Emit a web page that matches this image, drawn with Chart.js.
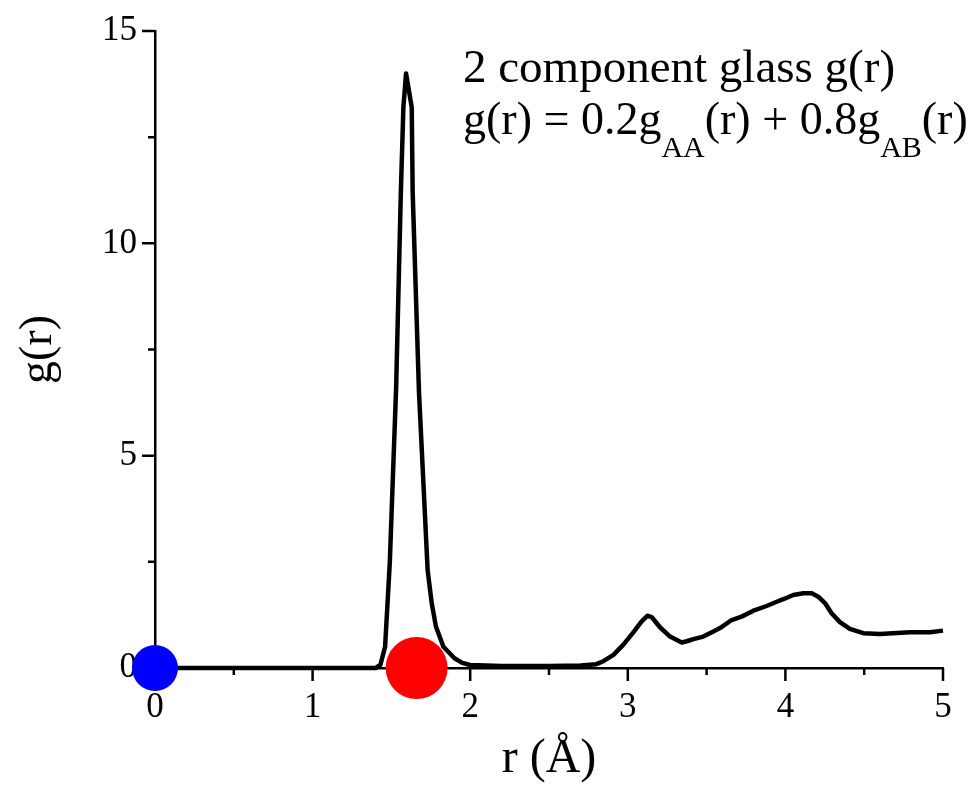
<!DOCTYPE html>
<html>
<head>
<meta charset="utf-8">
<script src="https://cdn.jsdelivr.net/npm/chart.js@4.4.1/dist/chart.umd.min.js"></script>
<style>
  html, body { margin: 0; padding: 0; background: #ffffff; }
  canvas { display: block; }
</style>
</head>
<body>
<canvas id="gr" width="980" height="788"></canvas>
<script>
// Radial distribution function of the two-component glass
const rValues = [
  0, 0.5, 1.0, 1.40, 1.43, 1.46, 1.49, 1.53, 1.56, 1.576, 1.593,
  1.629, 1.635, 1.675, 1.73, 1.756, 1.783, 1.83, 1.90, 1.95, 2.0,
  2.2, 2.5, 2.7, 2.80, 2.845, 2.909, 2.972, 3.035, 3.088, 3.124,
  3.151, 3.204, 3.268, 3.342, 3.374, 3.416, 3.479, 3.543, 3.585,
  3.659, 3.722, 3.797, 3.881, 3.945, 3.987, 4.050, 4.114, 4.167,
  4.209, 4.251, 4.293, 4.346, 4.409, 4.494, 4.600, 4.791, 4.918, 5.0
];
const gValues = [
  0, 0, 0, 0, 0.07, 0.5, 2.5, 6.6, 11.2, 13.2, 14.0,
  13.2, 11.2, 6.5, 2.3, 1.52, 0.97, 0.5, 0.23, 0.12, 0.07,
  0.05, 0.05, 0.06, 0.09, 0.16, 0.31, 0.55, 0.84, 1.10, 1.23,
  1.20, 0.96, 0.74, 0.60, 0.63, 0.68, 0.74, 0.86, 0.94,
  1.13, 1.21, 1.35, 1.46, 1.56, 1.62, 1.72, 1.76, 1.76,
  1.68, 1.53, 1.29, 1.08, 0.92, 0.82, 0.80, 0.84, 0.84, 0.88
];

// Marker atoms placed on the r axis
const atomA = { r: 0.0, g: 0 };
const atomB = { r: 1.66, g: 0 };

// Axis ticks
const xMajorTicks = [0, 1, 2, 3, 4, 5];
const xMinorTicks = [0.5, 1.5, 2.5, 3.5, 4.5];
const yMajorTicks = [0, 5, 10, 15];
const yMinorTicks = [2.5, 7.5, 12.5];

const SERIF = '"Liberation Serif", "Times New Roman", serif';

const curvePoints = rValues.map((r, i) => ({ x: r, y: gValues[i] }));

// Outward tick marks drawn on the scales (long for major, short for minor)
const tickMarks = {
  id: 'tickMarks',
  beforeDatasetsDraw(chart) {
    const { ctx, chartArea, scales } = chart;
    ctx.save();
    ctx.strokeStyle = '#000';
    ctx.lineWidth = 2.5;
    ctx.beginPath();
    const xs = scales.x, ys = scales.y;
    xMajorTicks.forEach(v => { const p = xs.getPixelForValue(v); ctx.moveTo(p, chartArea.bottom); ctx.lineTo(p, chartArea.bottom + 13); });
    xMinorTicks.forEach(v => { const p = xs.getPixelForValue(v); ctx.moveTo(p, chartArea.bottom); ctx.lineTo(p, chartArea.bottom + 7); });
    yMajorTicks.forEach(v => { const p = ys.getPixelForValue(v); ctx.moveTo(chartArea.left, p); ctx.lineTo(chartArea.left - 13, p); });
    yMinorTicks.forEach(v => { const p = ys.getPixelForValue(v); ctx.moveTo(chartArea.left, p); ctx.lineTo(chartArea.left - 7, p); });
    ctx.stroke();
    ctx.restore();
  }
};

// Two-line caption with subscripts in the upper right
const caption = {
  id: 'caption',
  afterDraw(chart) {
    const { ctx } = chart;
    const big = '46px ' + SERIF;
    const small = '30px ' + SERIF;
    const x0 = 463;
    ctx.save();
    ctx.fillStyle = '#000';
    ctx.textBaseline = 'alphabetic';
    ctx.textAlign = 'left';
    ctx.font = '47px ' + SERIF;
    ctx.fillText('2 component glass g(r)', x0, 82);
    const parts = [
      ['g(r) = 0.2g', big, 0],
      ['AA', small, 23],
      ['(r) + 0.8g', big, 0],
      ['AB', small, 23],
      ['(r)', big, 0]
    ];
    let x = x0;
    parts.forEach(([t, f, dy]) => {
      ctx.font = f;
      ctx.fillText(t, x, 134 + dy);
      x += ctx.measureText(t).width;
    });
    ctx.restore();
  }
};

new Chart(document.getElementById('gr'), {
  type: 'scatter',
  data: {
    datasets: [
      {
        label: 'A',
        data: [{ x: atomA.r, y: atomA.g }],
        pointRadius: 23,
        pointHoverRadius: 23,
        pointBackgroundColor: '#0000ff',
        pointBorderWidth: 0,
        clip: false
      },
      {
        label: 'B',
        data: [{ x: atomB.r, y: atomB.g }],
        pointRadius: 31,
        pointHoverRadius: 31,
        pointBackgroundColor: '#ff0000',
        pointBorderWidth: 0,
        clip: false
      },
      {
        label: 'g(r)',
        data: curvePoints,
        showLine: true,
        borderColor: '#000',
        borderWidth: 4.5,
        pointRadius: 0,
        tension: 0,
        borderJoinStyle: 'round',
        clip: false
      }
    ]
  },
  options: {
    responsive: false,
    animation: false,
    devicePixelRatio: 1,
    layout: { padding: { top: 29, right: 37, left: 0, bottom: 0 } },
    plugins: {
      legend: { display: false },
      tooltip: { enabled: false }
    },
    scales: {
      x: {
        type: 'linear',
        min: 0,
        max: 5,
        grid: { display: false, drawTicks: false },
        border: { display: true, color: '#000', width: 2.5 },
        ticks: {
          stepSize: 1,
          padding: 19,
          color: '#000',
          font: { family: SERIF, size: 35 },
          maxRotation: 0
        },
        title: {
          display: true,
          text: 'r (Å)',
          color: '#000',
          font: { family: SERIF, size: 48 },
          padding: { top: 0, bottom: 0 }
        },
        afterFit(scale) { scale.height = 120; scale.paddingRight = 0; scale.paddingLeft = 0; }
      },
      y: {
        type: 'linear',
        min: 0,
        max: 15,
        grid: { display: false, drawTicks: false },
        border: { display: true, color: '#000', width: 2.5 },
        ticks: {
          stepSize: 5,
          padding: 18,
          color: '#000',
          font: { family: SERIF, size: 35 }
        },
        title: {
          display: true,
          text: 'g(r)',
          color: '#000',
          font: { family: SERIF, size: 46 },
          padding: { top: 11, bottom: 0 }
        },
        afterFit(scale) { scale.width = 155; scale.paddingTop = 0; scale.paddingBottom = 0; }
      }
    }
  },
  plugins: [tickMarks, caption]
});
</script>
</body>
</html>
